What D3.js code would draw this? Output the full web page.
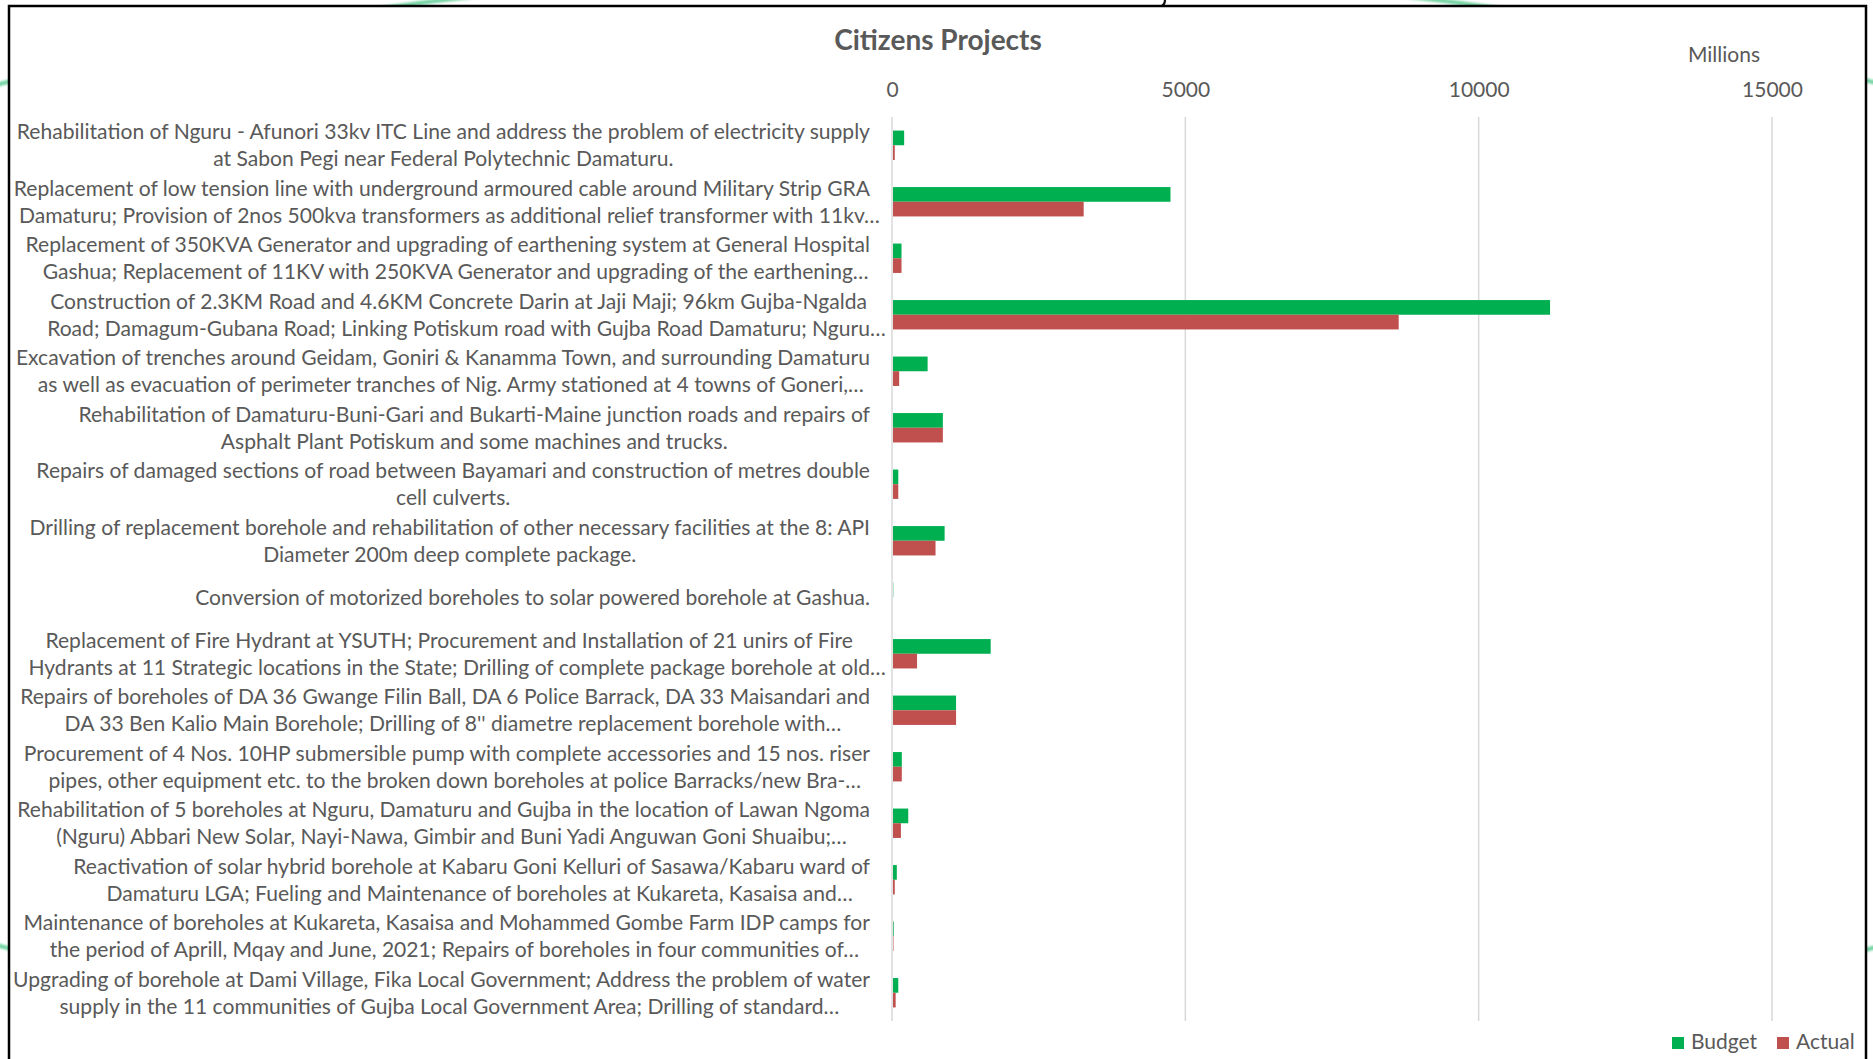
<!DOCTYPE html>
<html>
<head>
<meta charset="utf-8">
<script src="https://cdn.jsdelivr.net/npm/d3@7"></script>
<style>
  html, body { margin: 0; padding: 0; background: #ffffff; }
  svg { display: block; }
  text { font-family: Lato, "Open Sans", sans-serif; fill: #595959; }
</style>
</head>
<body>
<svg id="chart" width="1873" height="1059"></svg>
<script>
// Citizens projects: budget vs actual spend, in millions
const categories = [
  "Rehabilitation of Nguru - Afunori 33kv ITC Line and address the problem of electricity supply\nat Sabon Pegi near Federal Polytechnic Damaturu.",
  "Replacement of low tension line with underground armoured cable around Military Strip GRA\nDamaturu; Provision of 2nos 500kva transformers as additional relief transformer with 11kv…",
  "Replacement of 350KVA Generator and upgrading of earthening system at General Hospital\nGashua; Replacement of 11KV with 250KVA Generator and upgrading of the earthening…",
  "Construction of 2.3KM Road and 4.6KM Concrete Darin at Jaji Maji; 96km Gujba-Ngalda\nRoad; Damagum-Gubana Road; Linking Potiskum road with Gujba Road Damaturu; Nguru…",
  "Excavation of trenches around Geidam, Goniri & Kanamma Town, and surrounding Damaturu\nas well as evacuation of perimeter tranches of Nig. Army stationed at 4 towns of Goneri,…",
  "Rehabilitation of Damaturu-Buni-Gari and Bukarti-Maine junction roads and repairs of\nAsphalt Plant Potiskum and some machines and trucks.",
  "Repairs of damaged sections of road between Bayamari and construction of metres double\ncell culverts.",
  "Drilling of replacement borehole and rehabilitation of other necessary facilities at the 8: API\nDiameter 200m deep complete package.",
  "Conversion of motorized boreholes to solar powered borehole at Gashua.",
  "Replacement of Fire Hydrant at YSUTH; Procurement and Installation of 21 unirs of Fire\nHydrants at 11 Strategic locations in the State; Drilling of complete package borehole at old…",
  "Repairs of boreholes of DA 36 Gwange Filin Ball, DA 6 Police Barrack, DA 33 Maisandari and\nDA 33 Ben Kalio Main Borehole; Drilling of 8'' diametre replacement borehole with…",
  "Procurement of 4 Nos. 10HP submersible pump with complete accessories and 15 nos. riser\npipes, other equipment etc. to the broken down boreholes at police Barracks/new Bra-…",
  "Rehabilitation of 5 boreholes at Nguru, Damaturu and Gujba in the location of Lawan Ngoma\n(Nguru) Abbari New Solar, Nayi-Nawa, Gimbir and Buni Yadi Anguwan Goni Shuaibu;…",
  "Reactivation of solar hybrid borehole at Kabaru Goni Kelluri of Sasawa/Kabaru ward of\nDamaturu LGA; Fueling and Maintenance of boreholes at Kukareta, Kasaisa and…",
  "Maintenance of boreholes at Kukareta, Kasaisa and Mohammed Gombe Farm IDP camps for\nthe period of Aprill, Mqay and June, 2021; Repairs of boreholes in four communities of…",
  "Upgrading of borehole at Dami Village, Fika Local Government; Address the problem of water\nsupply in the 11 communities of Gujba Local Government Area; Drilling of standard…"
];
const budget = [190, 4730, 145, 11200, 590, 850, 90, 880, 5, 1665, 1075, 150, 260, 65, 12, 90];
const actual = [30, 3250, 145, 8620, 105, 850, 90, 725, 0, 410, 1075, 150, 135, 30, 8, 45];
const seriesNames = ["Budget", "Actual"];
const seriesColors = ["#00B050", "#C0504D"];
const xTicks = [0, 5000, 10000, 15000];
const chartTitle = "Citizens Projects";
const unitLabel = "Millions";

const svg = d3.select("#chart");
const W = 1873, H = 1059;

// decorative ring of the page background, peeking around the chart panel
svg.append("defs").append("filter").attr("id", "glow")
  .append("feGaussianBlur").attr("stdDeviation", 1.2);
svg.append("ellipse")
  .attr("cx", 940).attr("cy", 515).attr("rx", 1540).attr("ry", 544)
  .attr("fill", "none").attr("stroke", "#6fd3a0").attr("stroke-width", 4)
  .attr("filter", "url(#glow)");
svg.append("path").attr("d", "M1165,0 Q1165,5 1160,7")
  .attr("fill", "none").attr("stroke", "#111").attr("stroke-width", 2.2);

// chart panel
svg.append("rect")
  .attr("x", 9).attr("y", 6).attr("width", 1857).attr("height", H + 20)
  .attr("fill", "#ffffff").attr("stroke", "#000").attr("stroke-width", 2.5);

const plotTop = 117, plotBottom = 1021;
const x = d3.scaleLinear().domain([0, 15000]).range([892, 1772]);
const y = d3.scaleBand().domain(d3.range(categories.length))
  .range([plotTop, plotBottom]).paddingInner(0.48).paddingOuter(0.24);
const ySub = d3.scaleBand().domain([0, 1]).range([0, y.bandwidth()]);

// gridlines and axis line
svg.append("g").selectAll("line").data(xTicks).join("line")
  .attr("x1", d => x(d)).attr("x2", d => x(d))
  .attr("y1", plotTop).attr("y2", plotBottom)
  .attr("stroke", "#d9d9d9").attr("stroke-width", 1.5);

// top axis tick labels
const axis = d3.axisTop(x).tickValues(xTicks).tickFormat(d3.format("d")).tickSize(0).tickPadding(0);
const axisG = svg.append("g").attr("transform", "translate(0,97)").call(axis);
axisG.select(".domain").remove();
axisG.selectAll("text").attr("dy", 0).attr("font-size", 21)
  .style("font-family", "Lato, sans-serif").style("fill", "#595959");

// bars
const seriesData = [budget, actual];
seriesData.forEach((vals, s) => {
  svg.append("g").selectAll("rect").data(vals).join("rect")
    .attr("x", x(0) + 1)
    .attr("y", (d, i) => y(i) + ySub(s))
    .attr("width", d => Math.max(0, x(d) - x(0)))
    .attr("height", ySub.bandwidth())
    .attr("fill", seriesColors[s]);
});

// category labels: lines centred inside a block right-aligned to the axis
const labelRight = 870, lineGap = 27;
const lblG = svg.append("g");
const probe = lblG.append("text").attr("font-size", 22);
function measure(t, size) { probe.attr("font-size", size).text(t); return probe.node().getComputedTextLength(); }
const longest = "Replacement of low tension line with underground armoured cable around Military Strip GRA";
const labelSize = 22 * 857 / measure(longest, 22);
probe.remove();
const probe2 = lblG.append("text").attr("font-size", labelSize);
const wOf = t => { probe2.text(t); return probe2.node().getComputedTextLength(); };

categories.forEach((c, i) => {
  const lines = c.split("\n");
  const core = lines.map(l => l.replace(/…$/, ""));
  const blockW = d3.max(core, wOf);
  const cx = labelRight - blockW / 2;
  const cy = y(i) + y.bandwidth() / 2;
  lines.forEach((l, k) => {
    const ly = cy + (k - (lines.length - 1) / 2) * lineGap;
    lblG.append("text")
      .attr("x", cx - wOf(core[k]) / 2).attr("y", ly)
      .attr("dy", "0.35em").attr("font-size", labelSize)
      .text(l);
  });
});
probe2.remove();

// title and unit
svg.append("text").attr("x", 938).attr("y", 50).attr("text-anchor", "middle")
  .attr("font-size", 28).attr("font-weight", 700).text(chartTitle);
svg.append("text").attr("x", 1724).attr("y", 62).attr("text-anchor", "middle")
  .attr("font-size", 21).text(unitLabel);

// legend
const legX = [1672, 1777];
seriesNames.forEach((n, s) => {
  svg.append("rect").attr("x", legX[s]).attr("y", 1037).attr("width", 12).attr("height", 12)
    .attr("fill", seriesColors[s]);
  svg.append("text").attr("x", legX[s] + 19).attr("y", 1049).attr("font-size", 21).text(n);
});
</script>
</body>
</html>
